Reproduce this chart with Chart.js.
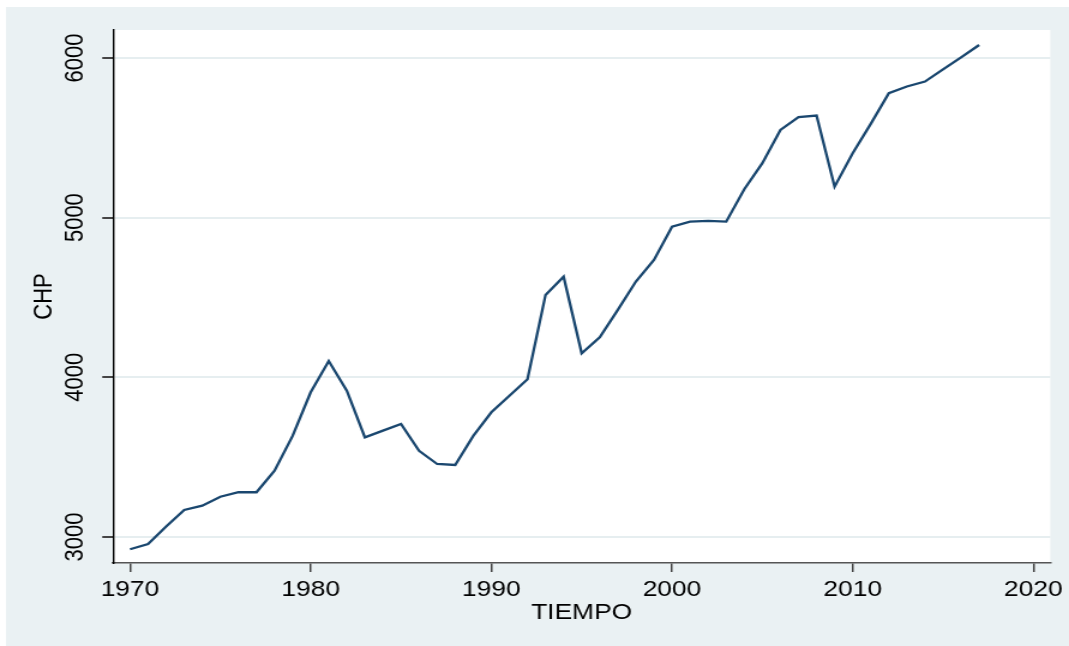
<!DOCTYPE html>
<html>
<head>
<meta charset="utf-8">
<script src="https://cdn.jsdelivr.net/npm/chart.js@4.4.1/dist/chart.umd.min.js"></script>
<style>
    html, body { margin: 0; padding: 0; background: #fff; overflow: hidden; }
    /* the reference is a stretched Stata export, so draw narrower and stretch */
    #wrap { width: 891px; height: 646px; transform: scaleX(1.19978); transform-origin: 0 0; }
    #chart { display: block; }
</style>
</head>
<body>
<div id="wrap"><canvas id="chart" width="891" height="646" style="width:891px;height:646px"></canvas></div>
<script>
// --- Data ---
const years = [
    1970, 1971, 1972, 1973, 1974, 1975, 1976, 1977, 1978, 1979,
    1980, 1981, 1982, 1983, 1984, 1985, 1986, 1987, 1988, 1989,
    1990, 1991, 1992, 1993, 1994, 1995, 1996, 1997, 1998, 1999,
    2000, 2001, 2002, 2003, 2004, 2005, 2006, 2007, 2008, 2009,
    2010, 2011, 2012, 2013, 2014, 2015, 2016, 2017
];
const chp = [
    2923, 2956, 3065, 3169, 3196, 3252, 3280, 3280, 3415, 3633,
    3906, 4102, 3916, 3624, 3666, 3708, 3540, 3457, 3451, 3633,
    3781, 3885, 3988, 4516, 4630, 4150, 4251, 4422, 4600, 4735,
    4943, 4975, 4979, 4975, 5178, 5341, 5549, 5629, 5639, 5194,
    5403, 5587, 5779, 5821, 5852, 5928, 6003, 6081
];
const xTicks = [1970, 1980, 1990, 2000, 2010, 2020];
const yTicks = [3000, 4000, 5000, 6000];

const FONT = 'Arial, "Liberation Sans", sans-serif';
const BG = '#eaf1f3';

// outer grey-blue frame + white plot region
const backdrop = {
    id: 'backdrop',
    beforeDraw(chart) {
        const { ctx, chartArea: a, width, height } = chart;
        ctx.save();
        ctx.fillStyle = '#fff';
        ctx.fillRect(0, 0, width, height);
        ctx.fillStyle = BG;
        ctx.fillRect(5, 7, width - 5, height - 7);
        ctx.fillStyle = '#fff';
        ctx.fillRect(a.left, a.top, a.right - a.left, a.bottom - a.top);
        ctx.restore();
    }
};

// Stata writes the y labels turned on their side
const yLabels = {
    id: 'yLabels',
    afterDraw(chart) {
        const { ctx } = chart;
        const y = chart.scales.y;
        ctx.save();
        ctx.fillStyle = '#000';
        ctx.font = '22px ' + FONT;
        ctx.textAlign = 'center';
        ctx.textBaseline = 'alphabetic';
        yTicks.forEach(v => {
            ctx.save();
            ctx.translate(68.5, y.getPixelForValue(v));
            ctx.rotate(-Math.PI / 2);
            ctx.fillText(String(v), 0, 0);
            ctx.restore();
        });
        ctx.restore();
    }
};

window.onload = () => {
    const ctx = document.getElementById('chart').getContext('2d');
    new Chart(ctx, {
        type: 'line',
        data: {
            datasets: [{
                data: years.map((yr, i) => ({ x: yr, y: chp[i] })),
                borderColor: '#1a476f',
                borderWidth: 2.3,
                pointRadius: 0,
                fill: false,
                tension: 0
            }]
        },
        options: {
            responsive: false,
            animation: false,
            devicePixelRatio: 1,
            layout: { padding: { left: 0, top: 30, right: 14.3, bottom: 0 } },
            plugins: { legend: { display: false }, tooltip: { enabled: false } },
            scales: {
                x: {
                    type: 'linear',
                    min: 1969.06,
                    max: 2020.94,
                    afterBuildTicks: s => { s.ticks = xTicks.map(v => ({ value: v })); },
                    afterFit: s => { s.height = 83; },
                    grid: { drawOnChartArea: false, tickLength: 9, tickColor: '#444', lineWidth: 1.5 },
                    border: { color: '#555', width: 1.5 },
                    ticks: {
                        autoSkip: false, maxRotation: 0, padding: 5,
                        color: '#000', font: { family: FONT, size: 22 },
                        callback: v => String(v)
                    },
                    title: {
                        display: true, text: 'TIEMPO', color: '#000',
                        font: { family: FONT, size: 22 }, padding: 20
                    }
                },
                y: {
                    min: 2837,
                    max: 6175,
                    afterBuildTicks: s => { s.ticks = yTicks.map(v => ({ value: v })); },
                    afterFit: s => { s.width = 94.2; },
                    grid: { color: '#e6eef0', lineWidth: 2, tickLength: 9, tickColor: '#444' },
                    border: { color: '#000', width: 1.4 },
                    ticks: { display: false },
                    title: {
                        display: true, text: 'CHP', color: '#000',
                        font: { family: FONT, size: 22 }, padding: 24
                    }
                }
            }
        },
        plugins: [backdrop, yLabels]
    });
};
</script>
</body>
</html>
